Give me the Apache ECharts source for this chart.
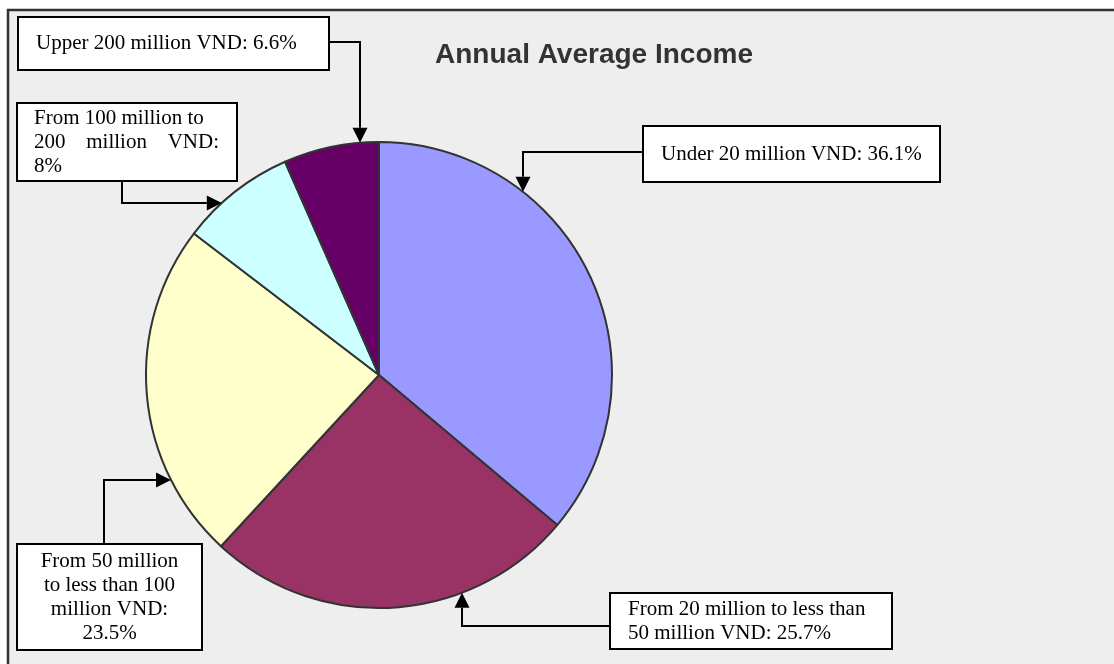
<!DOCTYPE html>
<html>
<head>
<meta charset="utf-8">
<title>Annual Average Income</title>
<script src="https://cdn.jsdelivr.net/npm/echarts@6/dist/echarts.min.js"></script>
<style>
  html, body { margin: 0; padding: 0; background: #ffffff; }
  #chart { width: 1114px; height: 664px; }
</style>
</head>
<body>
<div id="chart"></div>
<script>
// ---- data ----
const chartTitle = 'Annual Average Income';
const categories = [
  'Under 20 million VND',
  'From 20 million to less than 50 million VND',
  'From 50 million to less than 100 million VND',
  'From 100 million to 200 million VND',
  'Upper 200 million VND'
];
const shares = [36.1, 25.7, 23.5, 8, 6.6];
// words per line in each callout label
const lineBreaks = [[5], [6, 4], [3, 4, 2, 1], [4, 3, 1], [5]];

// ---- styling / layout ----
const sliceColors = ['#9999FF', '#993366', '#FFFFCC', '#CCFFFF', '#660066'];
const PIE = { cx: 379, cy: 375, r: 233 };
const LABEL_FONT_SIZE = 21;
const LABEL_LINE_HEIGHT = 24;
const LABEL_FONT = LABEL_FONT_SIZE + 'px "Liberation Serif", "Times New Roman", serif';

// callout boxes: [x, y, w, h]; connector runs start -> corner -> pie edge
const callouts = [
  { box: [643, 126, 297, 56], align: 'left', textX: 661, start: [643, 152], corner: [523, 152] },
  { box: [610, 593, 282, 56], align: 'left', textX: 628, start: [610, 626], corner: [462, 626] },
  { box: [17, 544, 185, 106], align: 'center', textX: 109.5, start: [104, 544], corner: [104, 480] },
  { box: [17, 103, 220, 78], align: 'justify', textX: 34, textW: 185, start: [122, 181], corner: [122, 203] },
  { box: [18, 17, 311, 53], align: 'left', textX: 36, start: [329, 42], corner: [360, 42] }
];

const measureCtx = document.createElement('canvas').getContext('2d');
measureCtx.font = LABEL_FONT;
const measure = s => measureCtx.measureText(s).width;

function labelLines(i) {
  const words = (categories[i] + ': ' + shares[i] + '%').split(' ');
  const lines = [];
  let k = 0;
  lineBreaks[i].forEach(n => { lines.push(words.slice(k, k + n)); k += n; });
  return lines;
}

// point where the connector's last leg meets the pie's rim
function rimPoint(start, corner) {
  const { cx, cy, r } = PIE;
  if (start[1] === corner[1]) {
    const dy = Math.sqrt(r * r - (corner[0] - cx) ** 2);
    return [corner[0], corner[1] < cy ? cy - dy : cy + dy];
  }
  const dx = Math.sqrt(r * r - (corner[1] - cy) ** 2);
  return [corner[0] < cx ? cx - dx : cx + dx, corner[1]];
}

function textEl(text, x, y, align) {
  return {
    type: 'text', x: x, y: y, z: 120,
    style: {
      text: text, font: LABEL_FONT, fill: '#000000',
      align: align, textAlign: align,
      verticalAlign: 'middle', textVerticalAlign: 'middle'
    }
  };
}

const graphics = [];

// outer frame
graphics.push({
  type: 'rect', z: -10, silent: true,
  shape: { x: 8, y: 10, width: 1120, height: 670 },
  style: { fill: '#EEEEEE', stroke: '#333333', lineWidth: 2.5 }
});

// title
graphics.push({
  type: 'text', x: 594, y: 55, z: 120,
  style: {
    text: chartTitle, font: 'bold 28px "Liberation Sans", Arial, sans-serif',
    fill: '#333333', align: 'center', textAlign: 'center',
    verticalAlign: 'middle', textVerticalAlign: 'middle'
  }
});

callouts.forEach((c, i) => {
  const [bx, by, bw, bh] = c.box;
  graphics.push({
    type: 'rect', z: 110,
    shape: { x: bx, y: by, width: bw, height: bh },
    style: { fill: '#FFFFFF', stroke: '#000000', lineWidth: 2 }
  });

  const lines = labelLines(i);
  const firstY = by + bh / 2 - (lines.length - 1) * LABEL_LINE_HEIGHT / 2;
  lines.forEach((words, li) => {
    const y = firstY + li * LABEL_LINE_HEIGHT;
    const text = words.join(' ');
    if (c.align === 'justify' && li < lines.length - 1 && words.length > 1 &&
        measure(text) < 0.9 * c.textW) {
      const wordW = words.map(measure);
      const gap = (c.textW - wordW.reduce((a, b) => a + b, 0)) / (words.length - 1);
      let x = c.textX;
      words.forEach((w, wi) => {
        graphics.push(textEl(w, x, y, 'left'));
        x += wordW[wi] + gap;
      });
    } else if (c.align === 'center') {
      graphics.push(textEl(text, c.textX, y, 'center'));
    } else {
      graphics.push(textEl(text, c.textX, y, 'left'));
    }
  });

  // elbow connector with arrow head at the rim
  const tip = rimPoint(c.start, c.corner);
  const ux0 = tip[0] - c.corner[0], uy0 = tip[1] - c.corner[1];
  const len = Math.hypot(ux0, uy0);
  const ux = ux0 / len, uy = uy0 / len;
  const HEAD_L = 15, HEAD_W = 7.5;
  const base = [tip[0] - ux * HEAD_L, tip[1] - uy * HEAD_L];
  graphics.push({
    type: 'polyline', z: 100,
    shape: { points: [c.start, c.corner, base] },
    style: { stroke: '#000000', lineWidth: 2, fill: null }
  });
  graphics.push({
    type: 'polygon', z: 101,
    shape: { points: [tip, [base[0] - uy * HEAD_W, base[1] + ux * HEAD_W], [base[0] + uy * HEAD_W, base[1] - ux * HEAD_W]] },
    style: { fill: '#000000' }
  });
});

const chart = echarts.init(document.getElementById('chart'), null, { renderer: 'canvas' });
chart.setOption({
  backgroundColor: '#FFFFFF',
  animation: false,
  graphic: { elements: graphics },
  series: [{
    type: 'pie',
    center: [PIE.cx, PIE.cy],
    radius: PIE.r,
    startAngle: 90,
    clockwise: true,
    silent: true,
    label: { show: false },
    labelLine: { show: false },
    itemStyle: { borderColor: '#333333', borderWidth: 2 },
    data: categories.map((name, i) => ({
      name: name,
      value: shares[i],
      itemStyle: { color: sliceColors[i] }
    }))
  }]
});
</script>
</body>
</html>
